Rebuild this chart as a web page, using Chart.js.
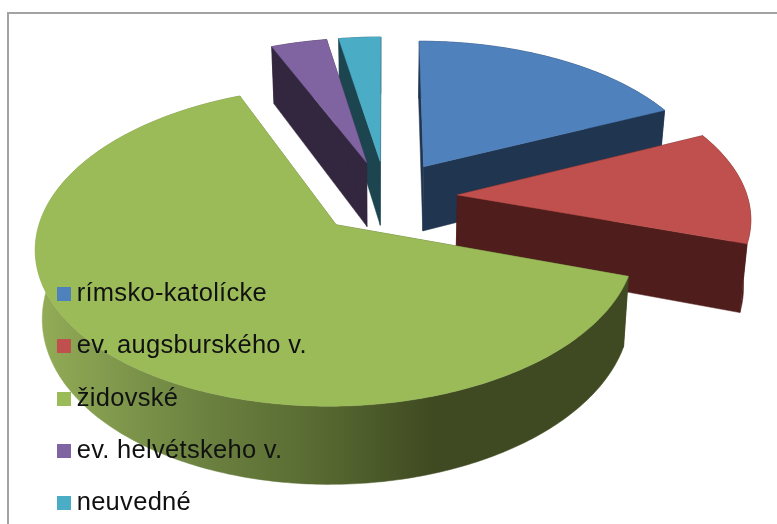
<!DOCTYPE html>
<html lang="sk"><head><meta charset="utf-8">
<style>
html,body{margin:0;padding:0;background:#fff;overflow:hidden}
#wrap{position:relative;width:777px;height:524px}
#frame{position:absolute;left:7px;top:12px;right:0;bottom:0;border-left:2px solid #a3a3a3;border-top:2px solid #a3a3a3}
canvas{position:absolute;left:0;top:0}
</style>
<script src="https://cdn.jsdelivr.net/npm/chart.js@4"></script>
</head><body>
<div id="wrap"><div id="frame"></div><canvas id="c" width="777" height="524"></canvas></div>
<script>
const categories = ['rímsko-katolícke','ev. augsburského v.','židovské','ev. helvétskeho v.','neuvedné'];
const shares = [18.1, 12.0, 63.6, 3.6, 2.7];
const topColors = ['#4f81bd','#c0504d','#9bbb59','#8064a2','#4bacc6'];
const wallColors = ['#203550','#4f1d1c',null,'#33263f','#1c4550'];
const paintOrder = [4,3,0,1,2];

// perspective view of the pie plane
const view = {cx:386, cy:197, a:290, b:149.5, p:0.132, explode:0.247, depth:66, shrink:0.98};
function project(u,v,low){
  const w = 1 + view.p*v;
  const s = low ? view.shrink : 1;
  return [view.cx + view.a*u/w*s, view.cy - view.b*v/w + (low ? view.depth/w : 0)];
}
function slicePoints(el){
  const mid = (el.startAngle+el.endAngle)/2;
  const ox = Math.cos(mid)*view.explode, oy = -Math.sin(mid)*view.explode;
  const n = Math.max(2, Math.ceil((el.endAngle-el.startAngle)/0.015));
  const arc = [];
  for(let i=0;i<=n;i++){
    const t = el.startAngle + (el.endAngle-el.startAngle)*i/n;
    arc.push([ox+Math.cos(t), oy-Math.sin(t)]);
  }
  return {apex:[ox,oy], arc};
}
function fillPoly(ctx,pts,fill){
  ctx.beginPath();
  pts.forEach((p,i)=> i?ctx.lineTo(p[0],p[1]):ctx.moveTo(p[0],p[1]));
  ctx.closePath();
  ctx.fillStyle = fill; ctx.fill();
  ctx.strokeStyle = fill; ctx.lineWidth = 0.5; ctx.stroke();
}
function swatch(color){
  const s = document.createElement('canvas');
  s.width = 14; s.height = 14;
  const g = s.getContext('2d');
  g.fillStyle = color; g.fillRect(0,0,14,14);
  return s;
}
const pie3d = {
  id:'pie3d',
  beforeLayout(chart){
    const lg = chart.legend;
    lg._layers = () => [{z:5, draw(){
      chart.ctx.letterSpacing = '0.3px';
      lg.draw();
      chart.ctx.letterSpacing = '0px';
    }}];
  },
  afterLayout(chart){
    const lg = chart.legend, w = lg.right-lg.left, h = lg.bottom-lg.top;
    lg.left = 37; lg.right = lg.left+w+80; lg.top = 254.5; lg.bottom = lg.top+h;
    lg.adjustHitBoxes();
  },
  beforeDatasetDraw(chart,args){
    const ctx = chart.ctx, els = args.meta.data;
    const grad = ctx.createLinearGradient(35,0,440,0);
    grad.addColorStop(0,'#93ad57');
    grad.addColorStop(0.4,'#6d8341');
    grad.addColorStop(0.72,'#566830');
    grad.addColorStop(0.97,'#404b22');
    grad.addColorStop(1,'#3f4a22');
    paintOrder.forEach(i=>{
      const el = els[i], s = slicePoints(el), wall = wallColors[i] || grad;
      const first = s.arc[0], last = s.arc[s.arc.length-1];
      const radial = (q)=>[project(q[0],q[1],false),project(s.apex[0],s.apex[1],false),project(s.apex[0],s.apex[1],true),project(q[0],q[1],true)];
      fillPoly(ctx,radial(first),wall);
      fillPoly(ctx,radial(last),wall);
      const up = s.arc.map(q=>project(q[0],q[1],false));
      const down = s.arc.map(q=>project(q[0],q[1],true)).reverse();
      fillPoly(ctx,up.concat(down),wall);
      fillPoly(ctx,[project(s.apex[0],s.apex[1],false)].concat(up),topColors[i]);
    });
    return false;
  }
};
new Chart(document.getElementById('c'),{
  type:'pie',
  data:{labels:categories,datasets:[{data:shares,backgroundColor:topColors,borderWidth:0}]},
  options:{
    responsive:false,animation:false,
    plugins:{
      tooltip:{enabled:false},
      legend:{position:'left',align:'start',
        labels:{
          usePointStyle:true,pointStyleWidth:0.1,boxHeight:14,padding:26.8,color:'#111',
          font:{family:'Liberation Sans',size:25.5},
          generateLabels(chart){
            return Chart.overrides.doughnut.plugins.legend.labels.generateLabels(chart)
              .map((item,i)=>({...item,pointStyle:swatch(topColors[i])}));
          }
        }}
    }
  },
  plugins:[pie3d]
});
</script>
</body></html>
